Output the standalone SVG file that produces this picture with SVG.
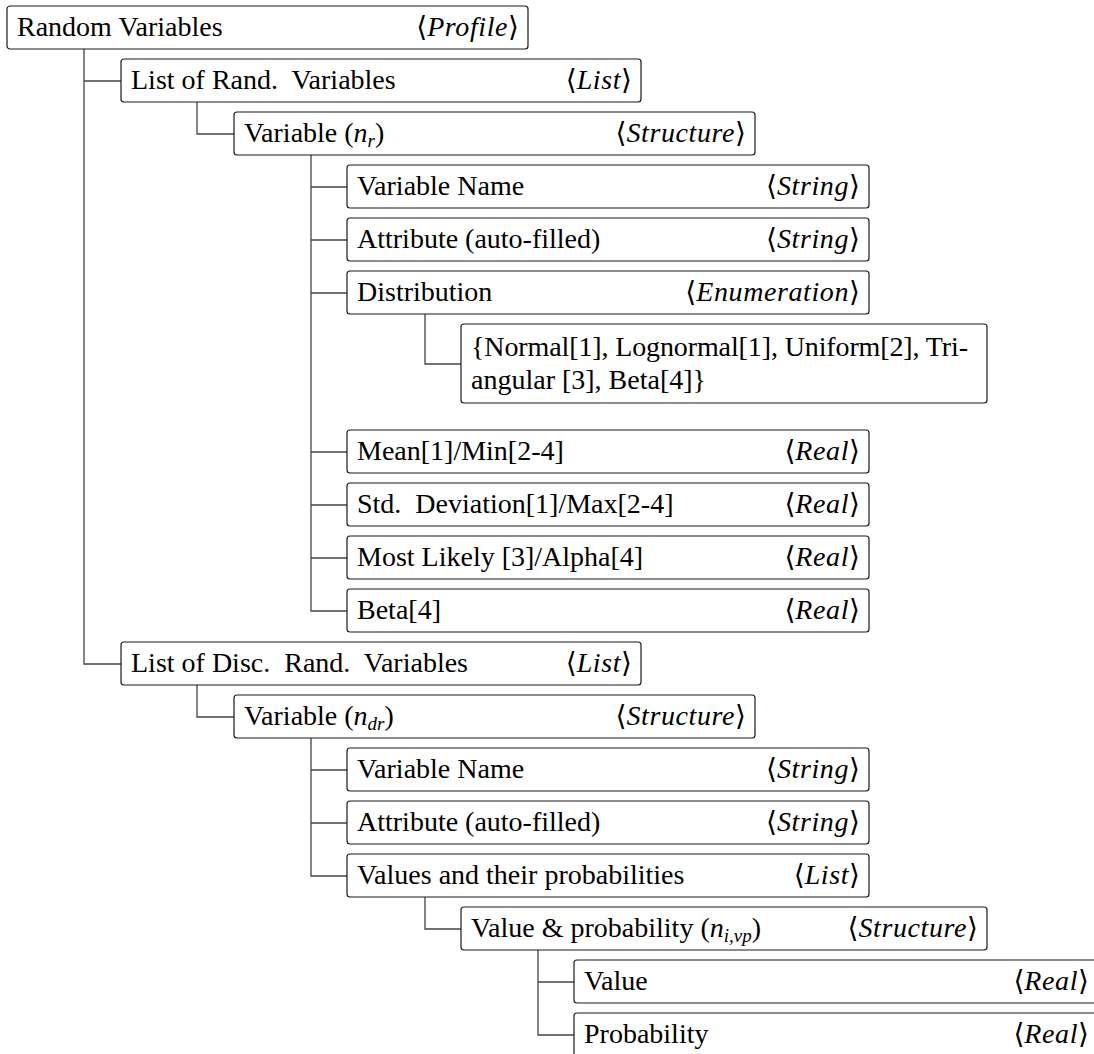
<svg xmlns="http://www.w3.org/2000/svg" width="1094" height="1054" viewBox="0 0 1094 1054" font-family="'Liberation Serif', 'Times New Roman', serif">
  <style>
    .box { fill: #ffffff; stroke: #1a1a1a; stroke-width: 1.2; }
    text { font-family: "Liberation Serif", "Times New Roman", serif; }
    .lbl { font-size: 28px; fill: #000000; }
    .typ { text-anchor: end; }
    .it { font-style: italic; letter-spacing: 0.6px; }
    .br { font-family: "DejaVu Sans", "DejaVu Serif", sans-serif; font-style: normal; font-weight: 300; letter-spacing: 0; }
    .sub { font-size: 19px; font-style: italic; }
    .wire { fill: none; stroke: #444444; stroke-width: 1.3; }
  </style>

  <!-- tree wiring -->
  <g id="connectors">
    <path class="wire" d="M84 49 V664 H121 M84 81 H121"/>
    <path class="wire" d="M197 102 V134 H234"/>
    <path class="wire" d="M311 155 V611 H347 M311 187 H347 M311 240 H347 M311 293 H347 M311 452 H347 M311 505 H347 M311 558 H347"/>
    <path class="wire" d="M425 314 V364 H461"/>
    <path class="wire" d="M197 685 V717 H234"/>
    <path class="wire" d="M311 738 V876 H347 M311 770 H347 M311 823 H347"/>
    <path class="wire" d="M425 897 V929 H461"/>
    <path class="wire" d="M538 950 V1035 H574 M538 982 H574"/>
  </g>

  <g id="random-variables">
    <rect class="box" x="7" y="6" width="521" height="43" rx="3"/>
    <text class="lbl" x="17" y="36">Random Variables</text>
    <text class="lbl typ" x="519" y="36"><tspan class="br">⟨</tspan><tspan class="it">Profile</tspan><tspan class="br">⟩</tspan></text>
  </g>

  <g id="list-rand">
    <rect class="box" x="121" y="59" width="520" height="43" rx="3"/>
    <text class="lbl" x="131" y="89">List of Rand.&#160; Variables</text>
    <text class="lbl typ" x="632" y="89"><tspan class="br">⟨</tspan><tspan class="it">List</tspan><tspan class="br">⟩</tspan></text>
  </g>

  <g id="variable-r">
    <rect class="box" x="234" y="112" width="521" height="43" rx="3"/>
    <text class="lbl" x="244" y="142">Variable (<tspan font-style="italic">n</tspan><tspan class="sub" dy="5">r</tspan><tspan dy="-5">)</tspan></text>
    <text class="lbl typ" x="746" y="142"><tspan class="br">⟨</tspan><tspan class="it">Structure</tspan><tspan class="br">⟩</tspan></text>
  </g>

  <g id="variable-name-r">
    <rect class="box" x="347" y="165" width="522" height="43" rx="3"/>
    <text class="lbl" x="357" y="195">Variable Name</text>
    <text class="lbl typ" x="860" y="195"><tspan class="br">⟨</tspan><tspan class="it">String</tspan><tspan class="br">⟩</tspan></text>
  </g>

  <g id="attribute-r">
    <rect class="box" x="347" y="218" width="522" height="43" rx="3"/>
    <text class="lbl" x="357" y="248">Attribute (auto-filled)</text>
    <text class="lbl typ" x="860" y="248"><tspan class="br">⟨</tspan><tspan class="it">String</tspan><tspan class="br">⟩</tspan></text>
  </g>

  <g id="distribution">
    <rect class="box" x="347" y="271" width="522" height="43" rx="3"/>
    <text class="lbl" x="357" y="301">Distribution</text>
    <text class="lbl typ" x="860" y="301"><tspan class="br">⟨</tspan><tspan class="it">Enumeration</tspan><tspan class="br">⟩</tspan></text>
  </g>

  <g id="distribution-options">
    <rect class="box" x="461" y="324" width="526" height="79" rx="3"/>
    <text class="lbl" x="471" y="356" textLength="497" lengthAdjust="spacing">{Normal[1], Lognormal[1], Uniform[2], Tri-</text>
    <text class="lbl" x="471" y="389">angular [3], Beta[4]}</text>
  </g>

  <g id="mean-min">
    <rect class="box" x="347" y="430" width="522" height="43" rx="3"/>
    <text class="lbl" x="357" y="460">Mean[1]/Min[2-4]</text>
    <text class="lbl typ" x="860" y="460"><tspan class="br">⟨</tspan><tspan class="it">Real</tspan><tspan class="br">⟩</tspan></text>
  </g>

  <g id="std-max">
    <rect class="box" x="347" y="483" width="522" height="43" rx="3"/>
    <text class="lbl" x="357" y="513">Std.&#160; Deviation[1]/Max[2-4]</text>
    <text class="lbl typ" x="860" y="513"><tspan class="br">⟨</tspan><tspan class="it">Real</tspan><tspan class="br">⟩</tspan></text>
  </g>

  <g id="likely-alpha">
    <rect class="box" x="347" y="536" width="522" height="43" rx="3"/>
    <text class="lbl" x="357" y="566">Most Likely [3]/Alpha[4]</text>
    <text class="lbl typ" x="860" y="566"><tspan class="br">⟨</tspan><tspan class="it">Real</tspan><tspan class="br">⟩</tspan></text>
  </g>

  <g id="beta">
    <rect class="box" x="347" y="589" width="522" height="43" rx="3"/>
    <text class="lbl" x="357" y="619">Beta[4]</text>
    <text class="lbl typ" x="860" y="619"><tspan class="br">⟨</tspan><tspan class="it">Real</tspan><tspan class="br">⟩</tspan></text>
  </g>

  <g id="list-disc">
    <rect class="box" x="121" y="642" width="520" height="43" rx="3"/>
    <text class="lbl" x="131" y="672">List of Disc.&#160; Rand.&#160; Variables</text>
    <text class="lbl typ" x="632" y="672"><tspan class="br">⟨</tspan><tspan class="it">List</tspan><tspan class="br">⟩</tspan></text>
  </g>

  <g id="variable-dr">
    <rect class="box" x="234" y="695" width="521" height="43" rx="3"/>
    <text class="lbl" x="244" y="725">Variable (<tspan font-style="italic">n</tspan><tspan class="sub" dy="5">dr</tspan><tspan dy="-5">)</tspan></text>
    <text class="lbl typ" x="746" y="725"><tspan class="br">⟨</tspan><tspan class="it">Structure</tspan><tspan class="br">⟩</tspan></text>
  </g>

  <g id="variable-name-dr">
    <rect class="box" x="347" y="748" width="522" height="43" rx="3"/>
    <text class="lbl" x="357" y="778">Variable Name</text>
    <text class="lbl typ" x="860" y="778"><tspan class="br">⟨</tspan><tspan class="it">String</tspan><tspan class="br">⟩</tspan></text>
  </g>

  <g id="attribute-dr">
    <rect class="box" x="347" y="801" width="522" height="43" rx="3"/>
    <text class="lbl" x="357" y="831">Attribute (auto-filled)</text>
    <text class="lbl typ" x="860" y="831"><tspan class="br">⟨</tspan><tspan class="it">String</tspan><tspan class="br">⟩</tspan></text>
  </g>

  <g id="values-probs">
    <rect class="box" x="347" y="854" width="522" height="43" rx="3"/>
    <text class="lbl" x="357" y="884">Values and their probabilities</text>
    <text class="lbl typ" x="860" y="884"><tspan class="br">⟨</tspan><tspan class="it">List</tspan><tspan class="br">⟩</tspan></text>
  </g>

  <g id="value-prob-pair">
    <rect class="box" x="461" y="907" width="526" height="43" rx="3"/>
    <text class="lbl" x="471" y="937">Value &amp; probability (<tspan font-style="italic">n</tspan><tspan class="sub" dy="5">i,vp</tspan><tspan dy="-5">)</tspan></text>
    <text class="lbl typ" x="978" y="937"><tspan class="br">⟨</tspan><tspan class="it">Structure</tspan><tspan class="br">⟩</tspan></text>
  </g>

  <g id="value">
    <rect class="box" x="574" y="960" width="525" height="43" rx="3"/>
    <text class="lbl" x="584" y="990">Value</text>
    <text class="lbl typ" x="1089" y="990"><tspan class="br">⟨</tspan><tspan class="it">Real</tspan><tspan class="br">⟩</tspan></text>
  </g>

  <g id="probability">
    <rect class="box" x="574" y="1013" width="525" height="43" rx="3"/>
    <text class="lbl" x="584" y="1043">Probability</text>
    <text class="lbl typ" x="1089" y="1043"><tspan class="br">⟨</tspan><tspan class="it">Real</tspan><tspan class="br">⟩</tspan></text>
  </g>
</svg>
